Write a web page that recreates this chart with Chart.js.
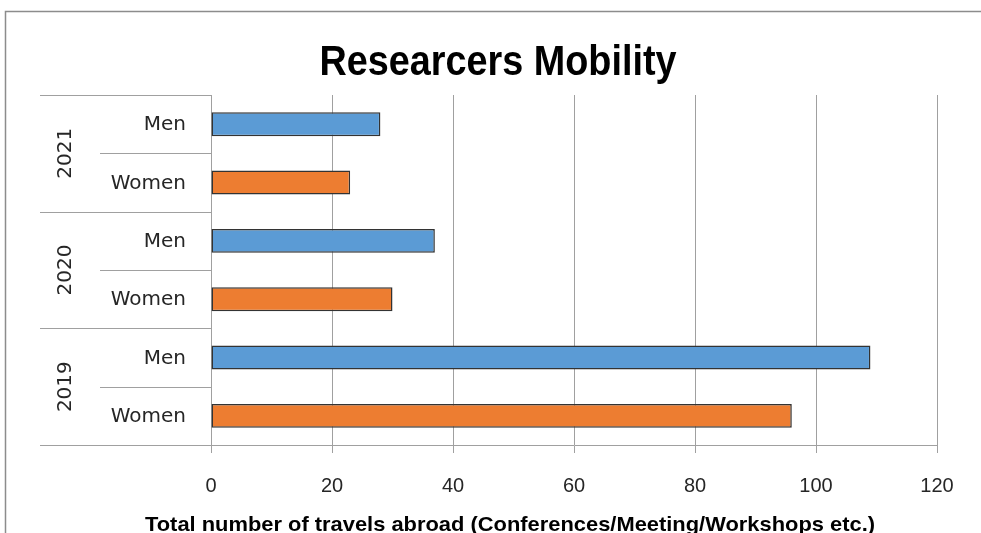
<!DOCTYPE html>
<html>
<head>
<meta charset="utf-8">
<script src="https://cdn.jsdelivr.net/npm/chart.js@4"></script>
<style>
  html, body { margin: 0; padding: 0; background: #fff; overflow: hidden; }
  canvas { display: block; }
</style>
</head>
<body>
<canvas id="mobilityChart" width="981" height="560"></canvas>
<script>
// Researcers Mobility - travels abroad by year and gender

const years = ['2021', '2020', '2019'];
const genders = ['Men', 'Women'];
const menTravels = [28, 37, 109];
const womenTravels = [23, 30, 96];
const xTicks = [0, 20, 40, 60, 80, 100, 120];

const chartTitle = 'Researcers Mobility';
const xTitle = 'Total number of travels abroad (Conferences/Meeting/Workshops etc.)';

const BLUE = '#5b9bd5', ORANGE = '#ed7d31', GRID = '#a0a0a0', TEXT = '#262626';

// one row per (year, gender), top to bottom
const rowLabels = [], rowValues = [], rowColors = [];
years.forEach((yr, i) => {
    rowLabels.push(genders[0]); rowValues.push(menTravels[i]); rowColors.push(BLUE);
    rowLabels.push(genders[1]); rowValues.push(womenTravels[i]); rowColors.push(ORANGE);
});

// draws text squeezed to a given width (the original uses a narrow font)
const fitText = (ctx, text, cx, baseY, width, font) => {
    ctx.save();
    ctx.font = font;
    const w = ctx.measureText(text).width;
    ctx.translate(cx, baseY);
    ctx.scale(width / w, 1);
    ctx.textAlign = 'center';
    ctx.textBaseline = 'alphabetic';
    ctx.fillText(text, 0, 0);
    ctx.restore();
};

const decor = {
    id: 'decor',
    beforeDraw(chart) {
        const ctx = chart.ctx;
        ctx.save();
        ctx.strokeStyle = '#8c8c8c';
        ctx.lineWidth = 1.5;
        ctx.beginPath();
        ctx.moveTo(5.5, 600);
        ctx.lineTo(5.5, 11.5);
        ctx.lineTo(1000, 11.5);
        ctx.stroke();
        ctx.restore();
    },
    afterDraw(chart) {
        const ctx = chart.ctx, ys = chart.scales.y, area = chart.chartArea;
        const step = ys.getPixelForValue(1) - ys.getPixelForValue(0);
        ctx.save();
        ctx.fillStyle = '#000';

        // title
        fitText(ctx, chartTitle, 498, 75, 357, "bold 42px 'Liberation Sans Narrow', 'Liberation Sans', Arial");
        // x axis title
        fitText(ctx, xTitle, 510, 531, 730, "bold 21px 'Liberation Sans Narrow', 'Liberation Sans', Arial");

        // hierarchical category axis
        ctx.fillStyle = TEXT;
        ctx.strokeStyle = GRID;
        ctx.lineWidth = 1;
        rowLabels.forEach((lab, i) => {
            const cy = ys.getPixelForValue(i);
            const top = Math.round(cy - step / 2) + 0.5;
            const isGroupStart = i % 2 === 0;
            ctx.beginPath();
            ctx.moveTo(isGroupStart ? 40 : 100, top);
            ctx.lineTo(area.left, top);
            ctx.stroke();
            ctx.font = "20px 'DejaVu Sans'";
            ctx.textAlign = 'right';
            ctx.textBaseline = 'middle';
            ctx.fillText(lab, 186, cy + 1);
        });
        const bottom = Math.round(ys.getPixelForValue(rowLabels.length - 1) + step / 2) + 0.5;
        ctx.beginPath();
        ctx.moveTo(40, bottom);
        ctx.lineTo(area.left, bottom);
        ctx.stroke();

        years.forEach((yr, g) => {
            const cy = (ys.getPixelForValue(g * 2) + ys.getPixelForValue(g * 2 + 1)) / 2;
            ctx.save();
            ctx.translate(66, cy);
            ctx.rotate(-Math.PI / 2);
            ctx.font = "20px 'DejaVu Sans'";
            ctx.textAlign = 'center';
            ctx.textBaseline = 'middle';
            ctx.fillText(yr, 0, 0);
            ctx.restore();
        });
        ctx.restore();
    }
};

new Chart(document.getElementById('mobilityChart'), {
    type: 'bar',
    data: {
        labels: rowLabels,
        datasets: [{
            data: rowValues,
            backgroundColor: rowColors,
            borderColor: '#333333',
            borderWidth: 1.5,
            borderSkipped: false,
            barPercentage: 0.41,
            categoryPercentage: 1
        }]
    },
    options: {
        indexAxis: 'y',
        responsive: false,
        animation: false,
        layout: { padding: { left: 211, right: 44, top: 95, bottom: 0 } },
        plugins: { legend: { display: false }, title: { display: false }, tooltip: { enabled: false } },
        scales: {
            x: {
                min: xTicks[0],
                max: xTicks[xTicks.length - 1],
                afterBuildTicks: s => { s.ticks = xTicks.map(v => ({ value: v })); },
                afterFit: s => { s.height = 115; },
                grid: { color: GRID, lineWidth: 1, tickLength: 8, drawTicks: true },
                border: { color: GRID, width: 1 },
                ticks: { color: TEXT, padding: 21, font: { family: "'Liberation Sans', Arial", size: 20 } }
            },
            y: {
                afterFit: s => { s.width = 0; },
                grid: { display: false },
                border: { color: GRID, width: 1 },
                ticks: { display: false }
            }
        }
    },
    plugins: [decor]
});
</script>
</body>
</html>
